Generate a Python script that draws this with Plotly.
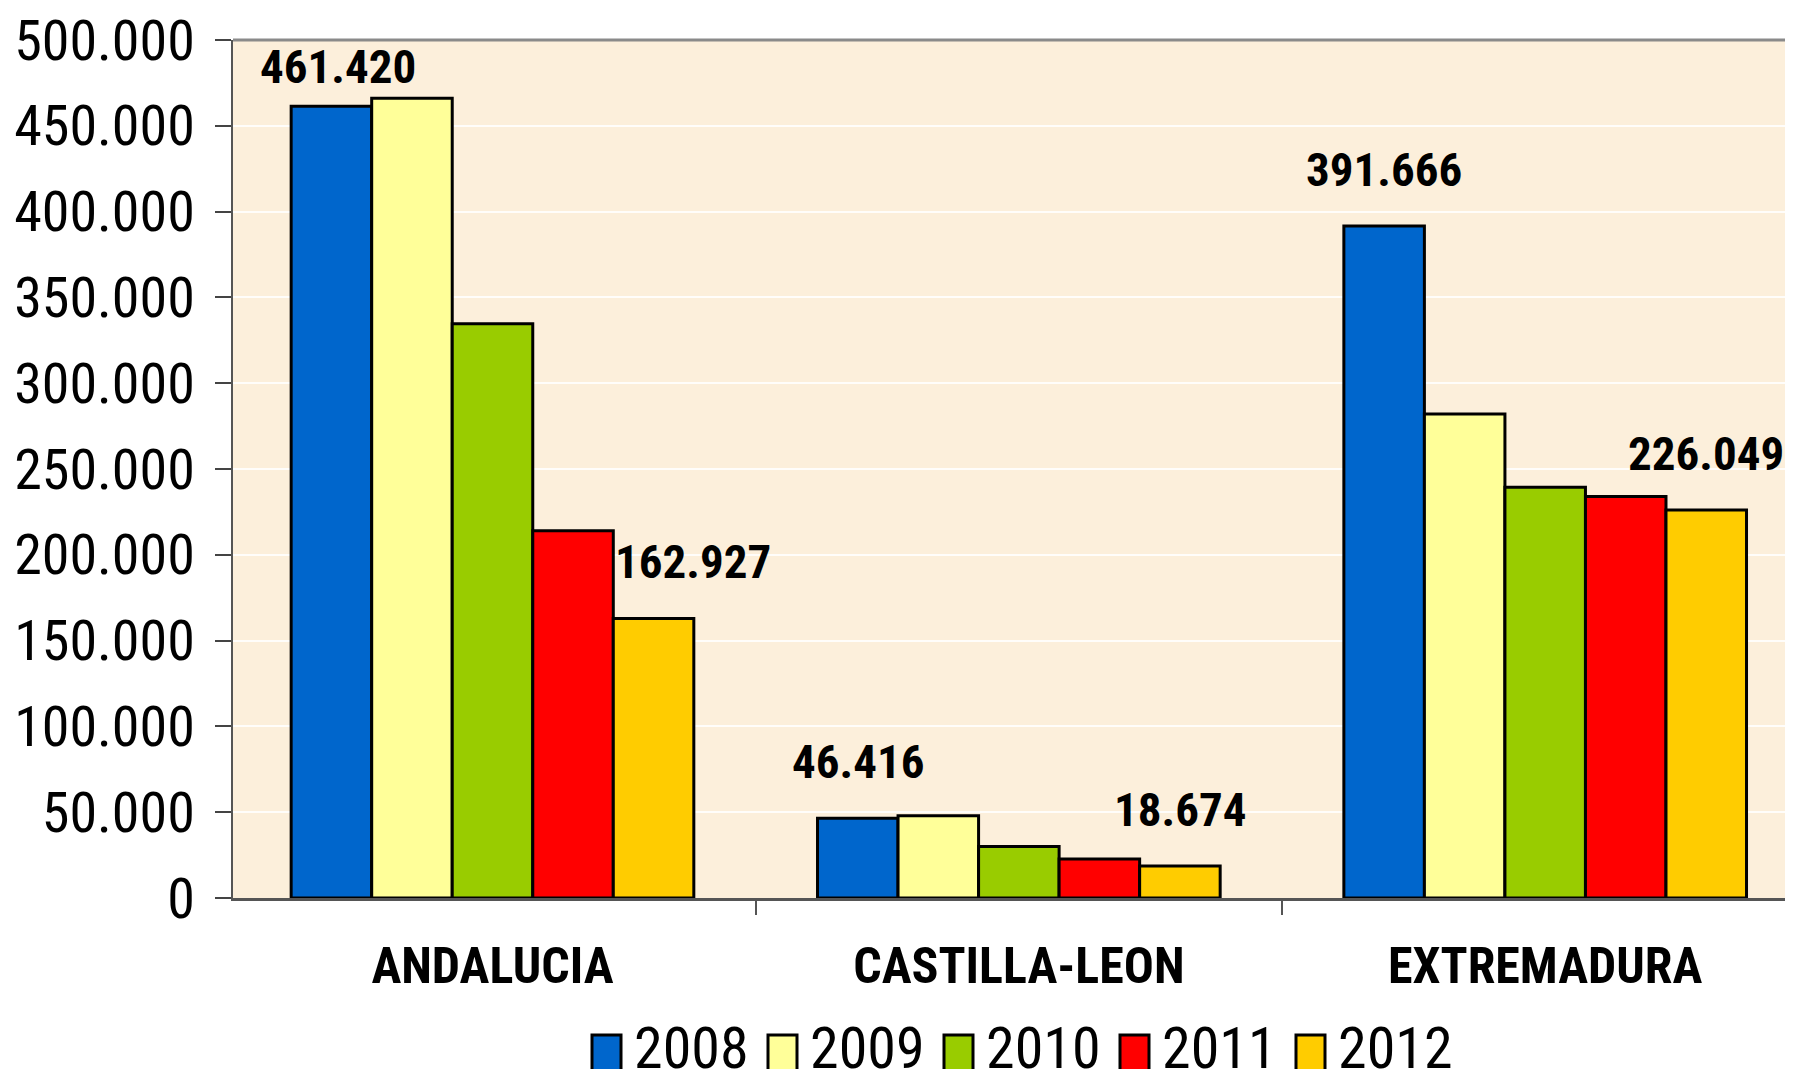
import plotly.graph_objects as go

# ---- data ----
regions = ["ANDALUCIA", "CASTILLA-LEON", "EXTREMADURA"]
years = ["2008", "2009", "2010", "2011", "2012"]
v2008 = [461420, 46416, 391666]
v2009 = [466000, 48000, 282000]
v2010 = [334700, 30000, 239300]
v2011 = [214000, 22700, 234000]
v2012 = [162927, 18674, 226049]
series = [v2008, v2009, v2010, v2011, v2012]
y_ticks = [0, 50000, 100000, 150000, 200000, 250000, 300000, 350000, 400000, 450000, 500000]
labelled_years = ["2008", "2012"]

# ---- style ----
colors = ["#0066CC", "#FFFF99", "#99CC00", "#FF0000", "#FFCC00"]
W, H = 1793, 1069
ML, MT, MB = 225, 32, 179
BARGAP = 0.235
NARROW = "Liberation Sans Narrow, Arial Narrow, Roboto Condensed, Liberation Sans, sans-serif"

fig = go.Figure()
for yr, vals, col in zip(years, series, colors):
    fig.add_trace(go.Bar(
        x=regions, y=vals, name=yr,
        marker=dict(color=col, line=dict(color="black", width=3)),
        showlegend=False,
    ))

# data labels (2008 and 2012 of each region)
nb = len(years)
bw = (1 - BARGAP) / nb
label_xshift = {("ANDALUCIA", "2008"): 7, ("ANDALUCIA", "2012"): 39}
label_yshift = {("ANDALUCIA", "2008"): 10}
annotations = []
for yr in labelled_years:
    k = years.index(yr)
    off = (k - (nb - 1) / 2) * bw
    for i, reg in enumerate(regions):
        v = series[k][i]
        annotations.append(dict(
            x=i + off, y=v, xref="x", yref="y",
            text=f"{v:,}".replace(",", "."),
            showarrow=False, yanchor="bottom",
            xshift=label_xshift.get((reg, yr), 0),
            yshift=label_yshift.get((reg, yr), 27),
            font=dict(family=NARROW, size=47, color="black", weight="bold"),
        ))

# custom legend along the bottom
plot_w = W - ML
plot_h = H - MT - MB
shapes = []
leg_x0 = 584
pitch = 176
leg_cy = 1040
for k, (yr, col) in enumerate(zip(years, colors)):
    px = leg_x0 + k * pitch
    shapes.append(dict(
        type="rect", xref="paper", yref="paper",
        x0=(px - ML) / plot_w, x1=(px + 29 - ML) / plot_w,
        y0=(H - MB - 1066) / plot_h, y1=(H - MB - 1027) / plot_h,
        fillcolor=col, line=dict(color="black", width=3), layer="above",
    ))
    annotations.append(dict(
        x=(px + 40 - ML) / plot_w, y=(H - MB - leg_cy) / plot_h,
        xref="paper", yref="paper", xanchor="left", yanchor="middle",
        text=yr, showarrow=False,
        font=dict(family=NARROW, size=58, color="black"),
    ))

# top border of plot area
shapes.append(dict(type="line", xref="paper", yref="paper", x0=0, x1=1, y0=1, y1=1,
                   line=dict(color="#8a8a8a", width=3), layer="above"))

fig.update_layout(
    width=W, height=H,
    barmode="group", bargap=BARGAP, bargroupgap=0,
    paper_bgcolor="white", plot_bgcolor="#FCEFDB",
    margin=dict(l=ML, r=0, t=MT, b=MB, autoexpand=False, pad=0),
    separators=",.",
    showlegend=False,
    annotations=annotations, shapes=shapes,
    font=dict(family=NARROW, color="black"),
)
fig.update_xaxes(
    type="category", range=[-0.493, 2.486],
    ticks="outside", tickson="boundaries", ticklen=14, tickcolor="#555", tickwidth=1.5,
    showline=True, linecolor="#555", linewidth=3,
    showgrid=False,
    tickfont=dict(family=NARROW, size=50, color="black", weight="bold"),
    ticklabelstandoff=22,
)
fig.update_yaxes(
    range=[0, 500000], tickvals=y_ticks, tickformat=",d",
    ticks="outside", ticklen=16, tickcolor="#444", tickwidth=1.5,
    showline=True, linecolor="#555", linewidth=2,
    showgrid=True, gridcolor="rgba(255,255,255,0.85)", gridwidth=1.5,
    zeroline=False,
    ticklabeloverflow="allow",
    tickfont=dict(family=NARROW, size=56, color="black"),
    ticklabelstandoff=9,
)

fig.write_html("out.html")
